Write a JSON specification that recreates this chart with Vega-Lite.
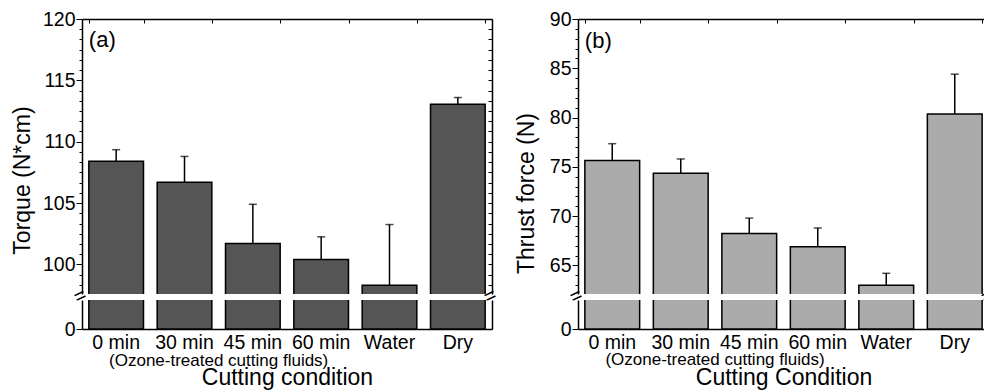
{
  "$schema": "https://vega.github.io/schema/vega-lite/v6.json",
  "background": "white",
  "padding": {"left": 11, "top": 9, "right": 0, "bottom": 0},
  "config": {
    "font": "Liberation Sans",
    "view": {"stroke": null},
    "text": {"font": "Liberation Sans", "fontWeight": "normal", "color": "black"},
    "axis": {"domainColor": "black", "tickColor": "black", "labelColor": "black", "titleColor": "black", "grid": false, "labelFont": "Liberation Sans", "titleFont": "Liberation Sans", "titleFontWeight": "normal", "labelFontSize": 19.5, "titleFontSize": 23, "domainWidth": 1.5, "tickWidth": 1}
  },
  "datasets": {
    "torque": [
      {"condition": "0 min", "mean": 108.4, "upper": 109.35},
      {"condition": "30 min", "mean": 106.7, "upper": 108.8},
      {"condition": "45 min", "mean": 101.7, "upper": 104.9},
      {"condition": "60 min", "mean": 100.4, "upper": 102.25},
      {"condition": "Water", "mean": 98.3, "upper": 103.25},
      {"condition": "Dry", "mean": 113.05, "upper": 113.6}
    ],
    "thrust": [
      {"condition": "0 min", "mean": 75.65, "upper": 77.35},
      {"condition": "30 min", "mean": 74.35, "upper": 75.8},
      {"condition": "45 min", "mean": 68.25, "upper": 69.8},
      {"condition": "60 min", "mean": 66.9, "upper": 68.8},
      {"condition": "Water", "mean": 62.98, "upper": 64.2},
      {"condition": "Dry", "mean": 80.35, "upper": 84.4}
    ],
    "note": [{"label": "(Ozone-treated cutting fluids)"}],
    "panelA": [{"label": "(a)"}],
    "panelB": [{"label": "(b)"}],
    "brk": [{"label": "="}]
  },
  "spacing": 15,
  "hconcat": [
    {
      "spacing": 6,
      "bounds": "flush",
      "vconcat": [
        {
          "width": 410, "height": 275,
          "layer": [
            {
              "data": {"name": "torque"},
              "mark": {"type": "bar", "fill": "#555555", "stroke": "black", "strokeWidth": 1.5, "clip": true},
              "encoding": {
                "x": {"field": "condition", "type": "nominal", "scale": {"domain": ["0 min", "30 min", "45 min", "60 min", "Water", "Dry"], "paddingInner": 0.2, "paddingOuter": 0.1}, "axis": {"orient": "top", "labels": false, "title": null, "tickBand": "extent", "tickSize": -4}},
                "y": {"field": "mean", "type": "quantitative", "scale": {"domain": [97.59, 120], "nice": false, "zero": false}, "axis": {"orient": "left", "values": [120, 119.1667, 118.3333, 117.5, 116.6667, 115.8333, 115, 114.1667, 113.3333, 112.5, 111.6667, 110.8333, 110, 109.1667, 108.3333, 107.5, 106.6667, 105.8333, 105, 104.1667, 103.3333, 102.5, 101.6667, 100.8333, 100, 99.1667, 98.3333], "labelExpr": "datum.value % 5 == 0 ? datum.label : ''", "tickSize": {"condition": {"test": "datum.value % 5 == 0", "value": 6}, "value": 3}, "labelPadding": 1, "labelOverlap": false, "labelFlush": false, "title": "Torque (N*cm)", "titlePadding": 8, "titleY": 161}}
              }
            },
            {
              "data": {"name": "torque"},
              "mark": {"type": "rule", "color": "black", "strokeWidth": 1.5},
              "encoding": {
                "x": {"field": "condition", "type": "nominal"},
                "y": {"field": "mean", "type": "quantitative", "axis": {"orient": "right", "labels": false, "title": null, "tickSize": -4, "values": [120, 119.1667, 118.3333, 117.5, 116.6667, 115.8333, 115, 114.1667, 113.3333, 112.5, 111.6667, 110.8333, 110, 109.1667, 108.3333, 107.5, 106.6667, 105.8333, 105, 104.1667, 103.3333, 102.5, 101.6667, 100.8333, 100, 99.1667, 98.3333]}},
                "y2": {"field": "upper"}
              }
            },
            {
              "data": {"name": "torque"},
              "mark": {"type": "tick", "color": "black", "thickness": 1.5, "size": 8, "orient": "horizontal"},
              "encoding": {
                "x": {"field": "condition", "type": "nominal"},
                "y": {"field": "upper", "type": "quantitative", "axis": null}
              }
            },
            {
              "data": {"name": "panelA"},
              "mark": {"type": "text", "align": "left", "baseline": "middle", "fontSize": 22, "fontWeight": "normal"},
              "encoding": {
                "text": {"field": "label"},
                "x": {"datum": "0 min", "type": "nominal", "bandPosition": 0},
                "y": {"datum": 118.3, "type": "quantitative", "axis": null}
              }
            }
          ],
          "resolve": {"axis": {"y": "independent"}}
        },
        {
          "width": 410, "height": 29,
          "layer": [
            {
              "data": {"name": "torque"},
              "mark": {"type": "bar", "fill": "#555555", "stroke": "black", "strokeWidth": 1.5, "clip": true},
              "encoding": {
                "x": {"field": "condition", "type": "nominal", "scale": {"domain": ["0 min", "30 min", "45 min", "60 min", "Water", "Dry"], "paddingInner": 0.2, "paddingOuter": 0.1}, "axis": {"orient": "bottom", "title": "Cutting condition", "labelAngle": 0, "labelPadding": 8, "tickSize": -4, "titlePadding": 15}},
                "y": {"field": "mean", "type": "quantitative", "scale": {"domain": [0, 10], "nice": false}, "axis": {"values": [0], "title": null, "tickSize": 6, "labelPadding": 1}}
              }
            },
            {
              "data": {"name": "note"},
              "mark": {"type": "text", "fontSize": 17, "fontWeight": "normal", "baseline": "middle"},
              "encoding": {
                "text": {"field": "label"},
                "x": {"datum": "30 min", "type": "nominal", "bandPosition": 1.125},
                "y": {"datum": -11.2, "type": "quantitative", "axis": {"orient": "right", "labels": false, "ticks": false, "title": null}}
              }
            },
            {
              "data": {"name": "brk"},
              "mark": {"type": "text", "fontSize": 20, "fontWeight": "normal", "angle": 335, "baseline": "middle", "align": "center", "dy": -4},
              "encoding": {
                "text": {"field": "label"},
                "x": {"datum": "0 min", "type": "nominal", "bandPosition": -0.125},
                "y": {"datum": 10, "type": "quantitative", "axis": null}
              }
            },
            {
              "data": {"name": "brk"},
              "mark": {"type": "text", "fontSize": 20, "fontWeight": "normal", "angle": 335, "baseline": "middle", "align": "center", "dy": -4},
              "encoding": {
                "text": {"field": "label"},
                "x": {"datum": "Dry", "type": "nominal", "bandPosition": 1.125},
                "y": {"datum": 10, "type": "quantitative", "axis": null}
              }
            }
          ],
          "resolve": {"axis": {"y": "independent"}}
        }
      ]
    },
    {
      "spacing": 6,
      "bounds": "flush",
      "vconcat": [
        {
          "width": 411, "height": 275,
          "layer": [
            {
              "data": {"name": "thrust"},
              "mark": {"type": "bar", "fill": "#ababab", "stroke": "black", "strokeWidth": 1.5, "clip": true},
              "encoding": {
                "x": {"field": "condition", "type": "nominal", "scale": {"domain": ["0 min", "30 min", "45 min", "60 min", "Water", "Dry"], "paddingInner": 0.2, "paddingOuter": 0.1}, "axis": {"orient": "top", "labels": false, "title": null, "tickBand": "extent", "tickSize": -4}},
                "y": {"field": "mean", "type": "quantitative", "scale": {"domain": [62.1, 90], "nice": false, "zero": false}, "axis": {"orient": "left", "values": [90, 89, 88, 87, 86, 85, 84, 83, 82, 81, 80, 79, 78, 77, 76, 75, 74, 73, 72, 71, 70, 69, 68, 67, 66, 65, 64, 63], "labelExpr": "datum.value % 5 == 0 ? datum.label : ''", "tickSize": {"condition": {"test": "datum.value % 5 == 0", "value": 6}, "value": 3}, "labelPadding": 1, "labelOverlap": false, "labelFlush": false, "title": "Thrust force (N)", "titlePadding": 11, "titleY": 174}}
              }
            },
            {
              "data": {"name": "thrust"},
              "mark": {"type": "rule", "color": "black", "strokeWidth": 1.5},
              "encoding": {
                "x": {"field": "condition", "type": "nominal"},
                "y": {"field": "mean", "type": "quantitative", "axis": {"orient": "right", "labels": false, "title": null, "tickSize": -4, "values": [90, 89, 88, 87, 86, 85, 84, 83, 82, 81, 80, 79, 78, 77, 76, 75, 74, 73, 72, 71, 70, 69, 68, 67, 66, 65, 64, 63]}},
                "y2": {"field": "upper"}
              }
            },
            {
              "data": {"name": "thrust"},
              "mark": {"type": "tick", "color": "black", "thickness": 1.5, "size": 8, "orient": "horizontal"},
              "encoding": {
                "x": {"field": "condition", "type": "nominal"},
                "y": {"field": "upper", "type": "quantitative", "axis": null}
              }
            },
            {
              "data": {"name": "panelB"},
              "mark": {"type": "text", "align": "left", "baseline": "middle", "fontSize": 22, "fontWeight": "normal"},
              "encoding": {
                "text": {"field": "label"},
                "x": {"datum": "0 min", "type": "nominal", "bandPosition": 0},
                "y": {"datum": 87.8, "type": "quantitative", "axis": null}
              }
            }
          ],
          "resolve": {"axis": {"y": "independent"}}
        },
        {
          "width": 411, "height": 29,
          "layer": [
            {
              "data": {"name": "thrust"},
              "mark": {"type": "bar", "fill": "#ababab", "stroke": "black", "strokeWidth": 1.5, "clip": true},
              "encoding": {
                "x": {"field": "condition", "type": "nominal", "scale": {"domain": ["0 min", "30 min", "45 min", "60 min", "Water", "Dry"], "paddingInner": 0.2, "paddingOuter": 0.1}, "axis": {"orient": "bottom", "title": "Cutting Condition", "labelAngle": 0, "labelPadding": 8, "tickSize": -4, "titlePadding": 15}},
                "y": {"field": "mean", "type": "quantitative", "scale": {"domain": [0, 10], "nice": false}, "axis": {"values": [0], "title": null, "tickSize": 6, "labelPadding": 1}}
              }
            },
            {
              "data": {"name": "note"},
              "mark": {"type": "text", "fontSize": 17, "fontWeight": "normal", "baseline": "middle"},
              "encoding": {
                "text": {"field": "label"},
                "x": {"datum": "30 min", "type": "nominal", "bandPosition": 1.125},
                "y": {"datum": -10.8, "type": "quantitative", "axis": {"orient": "right", "labels": false, "ticks": false, "title": null}}
              }
            },
            {
              "data": {"name": "brk"},
              "mark": {"type": "text", "fontSize": 20, "fontWeight": "normal", "angle": 335, "baseline": "middle", "align": "center", "dy": -4},
              "encoding": {
                "text": {"field": "label"},
                "x": {"datum": "0 min", "type": "nominal", "bandPosition": -0.125},
                "y": {"datum": 10, "type": "quantitative", "axis": null}
              }
            },
            {
              "data": {"name": "brk"},
              "mark": {"type": "text", "fontSize": 20, "fontWeight": "normal", "angle": 335, "baseline": "middle", "align": "center", "dy": -4},
              "encoding": {
                "text": {"field": "label"},
                "x": {"datum": "Dry", "type": "nominal", "bandPosition": 1.125},
                "y": {"datum": 10, "type": "quantitative", "axis": null}
              }
            }
          ],
          "resolve": {"axis": {"y": "independent"}}
        }
      ]
    }
  ]
}
